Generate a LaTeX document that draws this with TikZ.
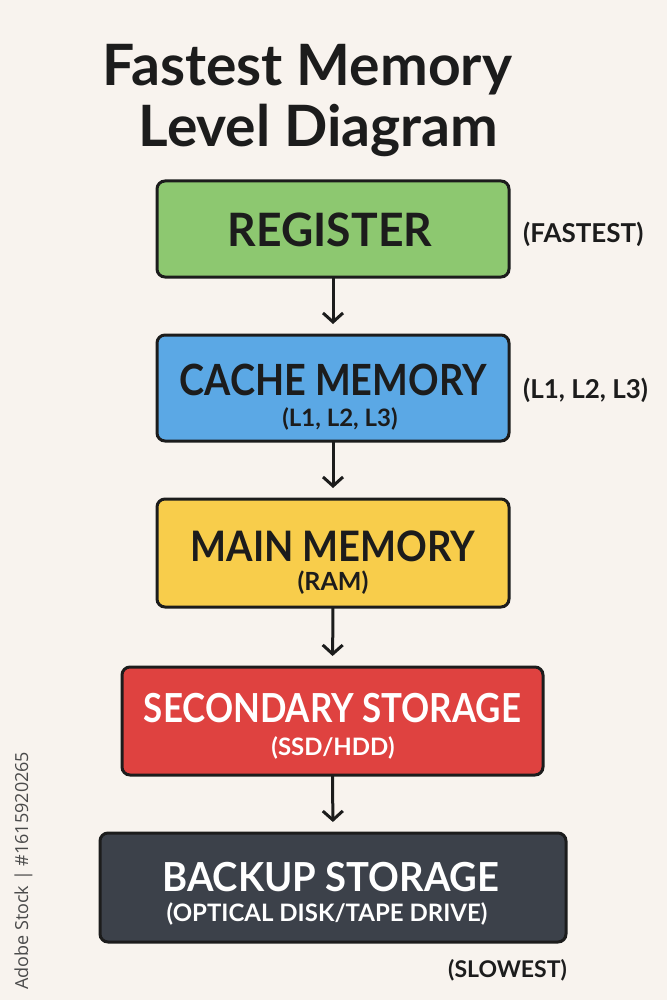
\documentclass[tikz,border=0pt]{standalone}
\usepackage{fontspec}
\setmainfont{Lato}
\newfontfamily\wmfont{Open Sans}
\usetikzlibrary{arrows.meta}
\definecolor{bg}{HTML}{F8F3EE}
\definecolor{ink}{HTML}{1C1C1C}
\definecolor{cgreen}{HTML}{8DC870}
\definecolor{cblue}{HTML}{5BA8E5}
\definecolor{cyellow}{HTML}{F8CD4B}
\definecolor{cred}{HTML}{DF4240}
\definecolor{cdark}{HTML}{3C414A}
\definecolor{wm}{HTML}{4A4A4A}
\newcommand{\fsz}[1]{\fontsize{#1pt}{#1pt}\selectfont}
\newcommand{\sqz}[2]{\scalebox{#1}[1]{#2}}
\tikzset{
  levelbox/.style={draw=ink, line width=3pt, rounded corners=8pt, inner sep=0pt, outer sep=0pt},
  maintxt/.style={anchor=base, inner sep=0pt, text=ink, font=\bfseries},
  subtxt/.style={anchor=base, inner sep=0pt, text=ink, font=\bfseries},
  sidetxt/.style={anchor=base west, inner sep=0pt, text=ink, font=\bfseries\fsz{26}},
  flow/.style={draw=ink, line width=3pt, -{Straight Barb[length=9pt,width=20pt,line width=3pt]}, shorten >=11pt}
}
\begin{document}
\begin{tikzpicture}[x=1pt,y=-1pt]
\fill[bg] (0,0) rectangle (667,1000);
\useasboundingbox (0,0) rectangle (667,1000);
% title
\node[maintxt, font=\bfseries\fsz{57}] (t1) at (307.5,86) {Fastest Memory};
\node[maintxt, font=\bfseries\fsz{57}] (t2) at (318.5,147) {Level Diagram};
% boxes
\node[levelbox, fill=cgreen, minimum width=352pt, minimum height=96pt] (reg) at (333,229) {};
\node[levelbox, fill=cblue, minimum width=352pt, minimum height=106pt] (cache) at (333,388) {};
\node[levelbox, fill=cyellow, minimum width=352pt, minimum height=108pt] (mainm) at (333,553) {};
\node[levelbox, fill=cred, minimum width=421pt, minimum height=108pt] (sec) at (332.5,721) {};
\node[levelbox, fill=cdark, minimum width=466pt, minimum height=109pt] (back) at (333,887.5) {};
% box texts
\node[maintxt, font=\bfseries\fsz{46}] (regT) at (330,247) {\sqz{0.967}{REGISTER}};
\node[maintxt, font=\bfseries\fsz{43}] (cacheT) at (333,395) {\sqz{0.88}{CACHE MEMORY}};
\node[subtxt, font=\bfseries\fsz{24}] (cacheS) at (340,426) {(L1, L2, L3)};
\node[maintxt, font=\bfseries\fsz{42}] (mainT) at (333,561) {\sqz{0.907}{MAIN MEMORY}};
\node[subtxt, font=\bfseries\fsz{25}] (mainS) at (333,590) {(RAM)};
\node[maintxt, text=white, font=\bfseries\fsz{40}] (secT) at (332.5,722) {\sqz{0.872}{SECONDARY STORAGE}};
\node[subtxt, text=white, font=\bfseries\fsz{24}] (secS) at (333,755) {(SSD/HDD)};
\node[maintxt, text=white, font=\bfseries\fsz{40}] (backT) at (331,891) {\sqz{0.955}{BACKUP STORAGE}};
\node[subtxt, text=white, font=\bfseries\fsz{24}] (backS) at (327,921) {(OPTICAL DISK/TAPE DRIVE)};
% side labels
\node[sidetxt] (fast) at (523,242) {(FASTEST)};
\node[sidetxt] (lvl) at (523,398) {(L1, L2, L3)};
\node[sidetxt, font=\bfseries\fsz{23}] (slow) at (448,977) {(SLOWEST)};
% arrows
\draw[flow] (reg.south) -- (cache.north);
\draw[flow] (cache.south) -- (mainm.north);
\draw[flow] (mainm.south) -- (sec.north);
\draw[flow] (sec.south) -- (back.north);
% watermark id
\node[rotate=90, anchor=base west, inner sep=0pt, text=wm, font=\wmfont\fsz{18}] (wmark) at (28,990) {Adobe Stock | \#1615920265};
\end{tikzpicture}
\end{document}
